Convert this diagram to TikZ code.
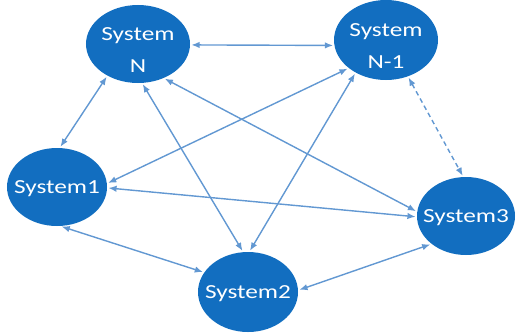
\documentclass[tikz,border=0pt]{standalone}
\usepackage{fontspec}
\usepackage{graphicx}
\setmainfont{Carlito}
\usetikzlibrary{shapes.geometric,arrows.meta}
\definecolor{nodeblue}{RGB}{18,110,192}
\definecolor{edgeblue}{RGB}{98,152,210}
\newcommand{\widetext}[1]{\scalebox{1.27}[1]{#1}}
\begin{document}
\begin{tikzpicture}[x=0.03cm,y=-0.03cm,
  sys/.style={ellipse, fill=nodeblue, draw=none, inner sep=0pt},
  systext/.style={text=white, align=center, inner sep=0pt,
    font=\fontsize{17}{27}\selectfont},
  link/.style={draw=edgeblue, line width=1.2pt, shorten >=1pt, shorten <=1pt,
    {Latex[length=7pt,width=5.5pt]}-{Latex[length=7pt,width=5.5pt]}},
  dashlink/.style={link, dash pattern=on 4pt off 3pt}]
\useasboundingbox (0,0) rectangle (516,332);
\node[sys, minimum width=3.12cm, minimum height=2.34cm,
  label={[systext, yshift=-5pt]center:\widetext{System}\\\widetext{N}}] (N) at (138,44) {};
\node[sys, minimum width=3.12cm, minimum height=2.40cm,
  label={[systext, yshift=-5pt]center:\widetext{System}\\\widetext{N-1}}] (N1) at (386,40) {};
\node[sys, minimum width=3.00cm, minimum height=2.34cm,
  label={[systext, yshift=-1.5pt]center:\widetext{System1}}] (S1) at (57,187) {};
\node[sys, minimum width=2.94cm, minimum height=2.34cm,
  label={[systext, yshift=-1.5pt]center:\widetext{System3}}] (S3) at (466,216) {};
\node[sys, minimum width=3.00cm, minimum height=2.40cm,
  label={[systext, yshift=-1.5pt]center:\widetext{System2}}] (S2) at (248,292) {};
\draw[link] (N.-1) -- (N1.186);
\draw[link] (N.226) -- (S1.86);
\draw[link] (N.-84) -- (S2.97);
\draw[link] (N.-53) -- (S3.175);
\draw[link] (N1.217) -- (S1.4);
\draw[link] (N1.227) -- (S2.88);
\draw[dashlink] (N1.-59) -- (S3.94);
\draw[link] (S1.-1) -- (S3.181);
\draw[link] (S1.-85) -- (S2.156);
\draw[link] (S2.2) -- (S3.219);
\end{tikzpicture}
\end{document}
